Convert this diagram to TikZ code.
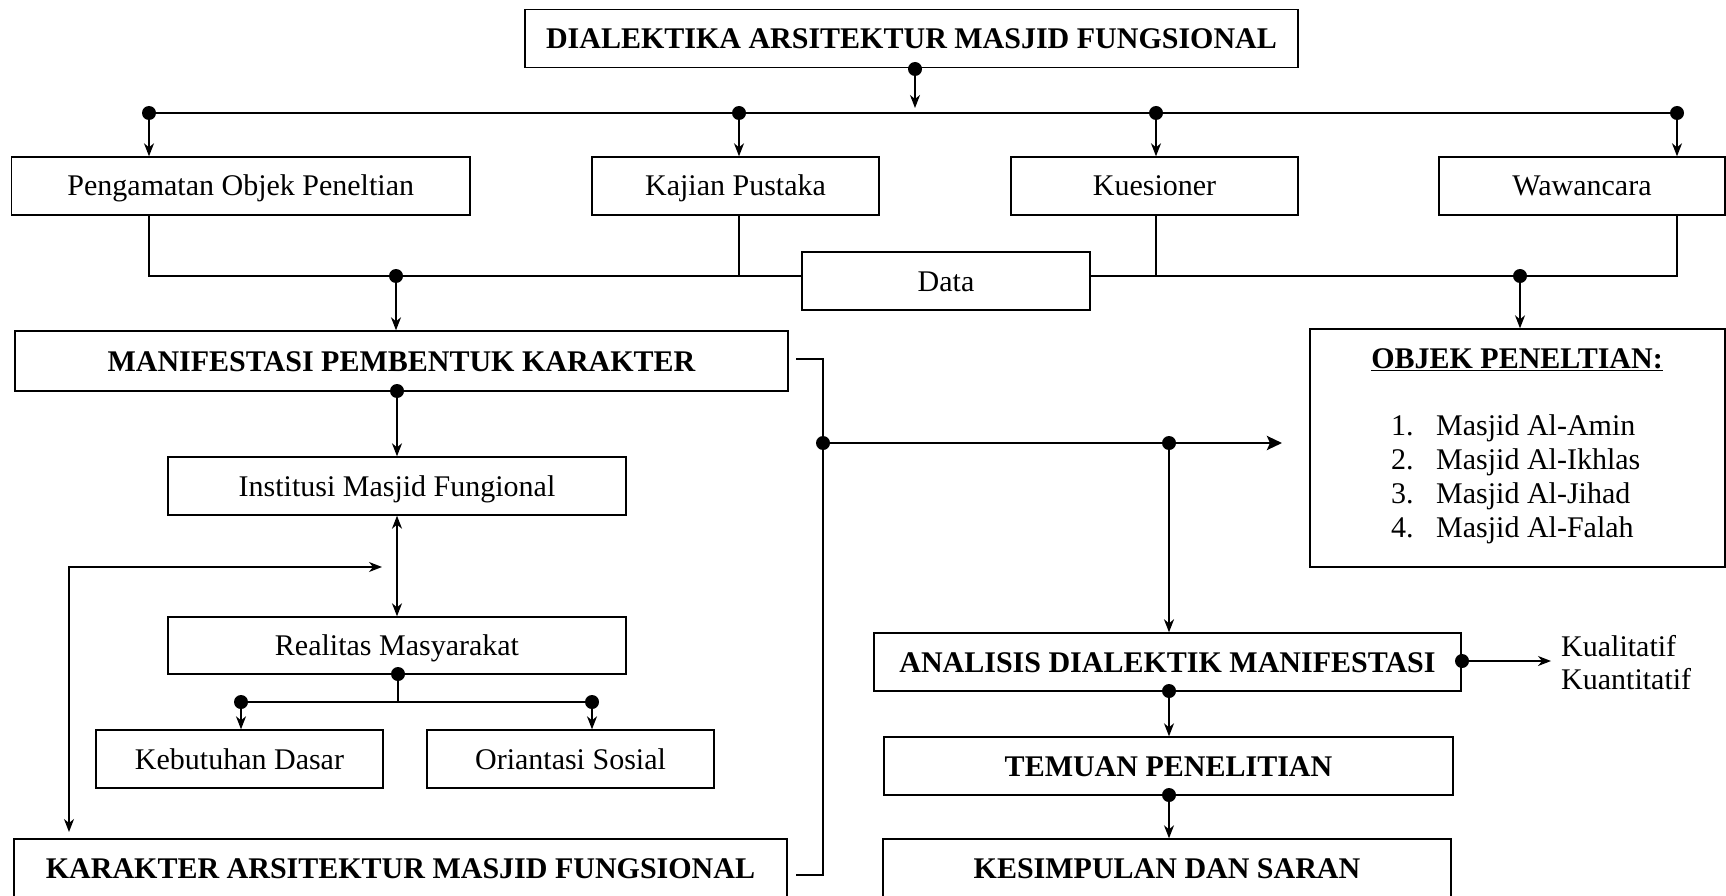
\documentclass[tikz,border=0pt]{standalone}
\usepackage{fontspec}
\setmainfont{Liberation Serif}
\usetikzlibrary{arrows.meta}
\newcommand\myfs{\fontsize{30}{36}\selectfont}
\begin{document}
\begin{tikzpicture}[x=1pt,y=-1pt,
  box/.style={draw, line width=1.4pt, inner sep=0pt, font=\myfs, minimum height=58pt, text height=20pt, text depth=0pt},
  bbox/.style={box, font=\myfs\bfseries},
  dotc/.style={circle, fill, inner sep=0pt, minimum size=14pt},
  ln/.style={line width=1.3pt},
  arr/.style={ln, -{Stealth[length=13pt,width=10pt,inset=4pt]}},
  darr/.style={ln, {Stealth[length=13pt,width=10pt,inset=4pt]}-{Stealth[length=13pt,width=10pt,inset=4pt]}},
  thk/.style={line width=2.8pt},
  txt/.style={inner sep=0pt, font=\myfs, anchor=base west}]
\path[use as bounding box] (0,0) rectangle (1726,896);

% nodes
\node[bbox, minimum width=773pt] (title) at (911.5,38.5) {DIALEKTIKA ARSITEKTUR MASJID FUNGSIONAL};
\node[box, minimum width=458.5pt] (peng) at (240.75,186) {Pengamatan Objek Peneltian};
\node[box, minimum width=287pt] (kaj) at (735.5,186) {Kajian Pustaka};
\node[box, minimum width=287pt] (kues) at (1154.5,186) {Kuesioner};
\node[box, minimum width=286pt] (waw) at (1582,186) {Wawancara};
\node[box, minimum width=288pt] (data) at (946,281) {Data};
\node[bbox, minimum width=773pt, minimum height=60pt] (man) at (401.5,361) {MANIFESTASI PEMBENTUK KARAKTER};
\node[box, minimum width=458pt] (inst) at (397,486) {Institusi Masjid Fungional};
\node[box, minimum width=458pt, minimum height=57pt] (real) at (397,645.5) {Realitas Masyarakat};
\node[box, minimum width=287pt] (keb) at (239.5,759) {Kebutuhan Dasar};
\node[box, minimum width=287pt] (ori) at (570.5,759) {Oriantasi Sosial};
\node[bbox, minimum width=773pt] (kar) at (400.5,868) {KARAKTER ARSITEKTUR MASJID FUNGSIONAL};
\node[box, minimum width=415pt, minimum height=238pt] (obj) at (1517.5,448) {};
\node[inner sep=0pt, font=\myfs\bfseries, anchor=base] (objt) at (1517,368) {\underline{OBJEK PENELTIAN:}};
\node[txt] (o1) at (1391,435) {\makebox[45pt][l]{1.}Masjid Al-Amin};
\node[txt] (o2) at (1391,469) {\makebox[45pt][l]{2.}Masjid Al-Ikhlas};
\node[txt] (o3) at (1391,503) {\makebox[45pt][l]{3.}Masjid Al-Jihad};
\node[txt] (o4) at (1391,537) {\makebox[45pt][l]{4.}Masjid Al-Falah};
\node[bbox, minimum width=587pt] (ana) at (1167.5,662) {ANALISIS DIALEKTIK MANIFESTASI};
\node[txt] (kual) at (1561,656) {Kualitatif};
\node[txt] (kuan) at (1561,689) {Kuantitatif};
\node[bbox, minimum width=569pt] (tem) at (1168.5,766) {TEMUAN PENELITIAN};
\node[bbox, minimum width=568pt] (kes) at (1167,868) {KESIMPULAN DAN SARAN};

% dots
\node[dotc] (dt) at (915,69) {};
\node[dotc] (d1) at (149,113) {};
\node[dotc] (d2) at (739,113) {};
\node[dotc] (d3) at (1156,113) {};
\node[dotc] (d4) at (1677,113) {};
\node[dotc] (dd1) at (396,276) {};
\node[dotc] (dd2) at (1520,276) {};
\node[dotc] (dm) at (397,391) {};
\node[dotc] (dr) at (398,674) {};
\node[dotc] (dk) at (241,702) {};
\node[dotc] (do) at (592,702) {};
\node[dotc] (db) at (823,443) {};
\node[dotc] (da) at (1169,443) {};
\node[dotc] (dar) at (1462,661) {};
\node[dotc] (dab) at (1169,691) {};
\node[dotc] (dtb) at (1169,795) {};

% free ends
\coordinate (tb) at (915,108);
\coordinate (fb1) at (382,567);
\coordinate (fb2) at (69,832);
\coordinate (b1) at (796,359);
\coordinate (b2) at (796,875);
\coordinate (ob) at (1282,443);
\coordinate (ka) at (1551,661);

% top
\draw[arr] (dt.center) -- (tb);
\draw[ln] (d1.center) -- (d4.center);
\draw[arr] (d1.center) -- (d1 |- peng.north);
\draw[arr] (d2.center) -- (d2 |- kaj.north);
\draw[arr] (d3.center) -- (d3 |- kues.north);
\draw[arr] (d4.center) -- (d4 |- waw.north);

% data
\draw[ln] (d1 |- peng.south) |- (dd1.center) -- (dd1 -| data.west);
\draw[ln] (d2 |- kaj.south) -- (d2 |- dd1);
\draw[ln] (d4 |- waw.south) |- (dd2.center) -- (dd2 -| data.east);
\draw[ln] (d3 |- kues.south) -- (d3 |- dd2);
\draw[arr] (dd1.center) -- (dd1 |- man.north);
\draw[arr] (dd2.center) -- (dd2 |- obj.north);

% left column
\draw[arr] (dm.center) -- (dm |- inst.north);
\draw[darr] (inst.south) -- (real.north);
\draw[darr] (fb1) -| (fb2);
\draw[ln] (dr.center) -- (dr |- dk);
\draw[ln] (dk.center) -- (do.center);
\draw[arr] (dk.center) -- (dk |- keb.north);
\draw[arr] (do.center) -- (do |- ori.north);

% bracket
\draw[thk] (b1) -| (db.center) |- (b2);
\draw[thk, -{Stealth[length=15pt,width=14pt,inset=3pt]}] (db.center) -- (ob);
\draw[line width=2pt, -{Stealth[length=13pt,width=10pt,inset=4pt]}] (da.center) -- (da |- ana.north);

% right column
\draw[arr] (dar.center) -- (ka);
\draw[arr] (dab.center) -- (dab |- tem.north);
\draw[arr] (dtb.center) -- (dtb |- kes.north);
\end{tikzpicture}
\end{document}
